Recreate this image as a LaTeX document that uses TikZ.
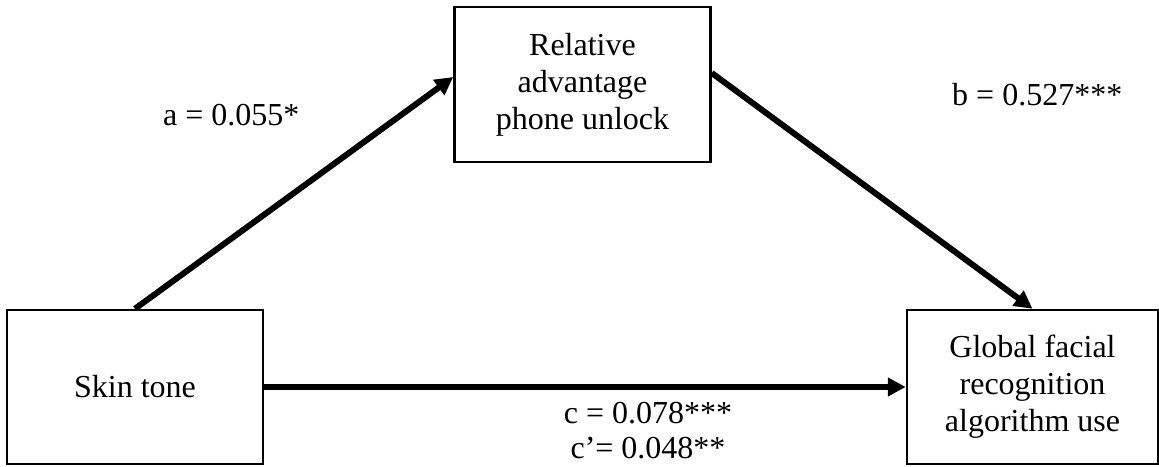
\documentclass[tikz,border=0pt]{standalone}
\usepackage{fontspec}
\setmainfont{Liberation Serif}
\usetikzlibrary{arrows.meta}
\begin{document}
\begin{tikzpicture}[x=1pt,y=-1pt,
  box/.style={draw, line width=2.5pt, inner sep=0pt, align=center,
    minimum height=154pt, font=\fontsize{32}{37}\selectfont},
  conn/.style={line width=6pt, -{Triangle[length=18pt,width=18pt]}},
  lab/.style={inner sep=0pt, font=\fontsize{32}{37}\selectfont}]
\useasboundingbox (0,0) rectangle (1159,466);
\node[box, minimum width=256pt, minimum height=155pt] (ra) at (582.5,84.5) {Relative\\advantage\\phone unlock};
\node[box, minimum width=256pt] (sk) at (135,387) {Skin tone};
\node[box, minimum width=251pt] (gf) at (1032.5,387) {Global facial\\recognition\\algorithm use};
\draw[conn] (sk.north) -- ([yshift=7.5pt]ra.west);
\draw[conn] ([yshift=11.5pt]ra.east) -- (gf.north);
\draw[conn] (sk.east) -- (gf.west);
\node[lab, anchor=base west] (la) at (163,125) {a = 0.055*};
\node[lab, anchor=base west] (lb) at (952,105) {b = 0.527***};
\node[lab, anchor=base] (lc) at (648,423) {c = 0.078***};
\node[lab, anchor=base] (lcp) at (648,458) {c’= 0.048**};
\end{tikzpicture}
\end{document}
